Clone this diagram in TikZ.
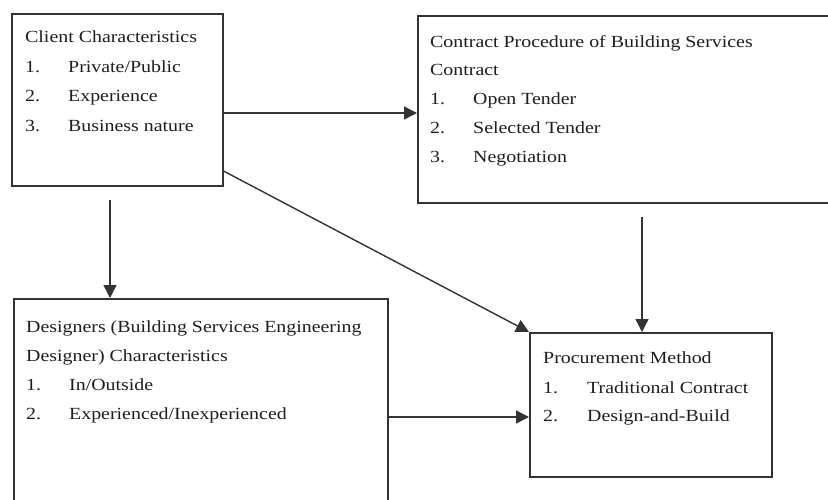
\documentclass[tikz,border=0pt]{standalone}
\usepackage{fontspec}
\setmainfont{Liberation Serif}[FakeStretch=1.17]
\usetikzlibrary{arrows.meta}
\definecolor{ink}{HTML}{1E1E1E}
\definecolor{edge}{HTML}{333333}
\tikzset{
  box/.style={draw=edge, line width=1.5pt, anchor=north west, inner sep=0pt},
  txt/.style={anchor=base west, inner sep=0pt, text=ink, font=\fontsize{17}{20}\selectfont},
  conn/.style={draw=edge, line width=1.4pt, -{Triangle[length=13pt,width=13pt]}},
}
\begin{document}
\begin{tikzpicture}[x=1pt,y=-1pt]
\clip (0,0) rectangle (828,499);
\fill[white] (0,0) rectangle (828,499);
% boxes
\node[box, minimum width=211pt, minimum height=172pt] (client) at (11,13) {};
\node[box, minimum width=430pt, minimum height=187pt] (contract) at (417,15) {};
\node[box, minimum width=374pt, minimum height=230pt] (designers) at (13,298) {};
\node[box, minimum width=242pt, minimum height=144pt] (proc) at (529,332) {};
% client text
\node[txt] (c0) at (25,42) {Client Characteristics};
\node[txt] (c1n) at (25,72) {1.};
\node[txt] (c1) at (68,72) {Private/Public};
\node[txt] (c2n) at (25,101) {2.};
\node[txt] (c2) at (68,101) {Experience};
\node[txt] (c3n) at (25,131) {3.};
\node[txt] (c3) at (68,131) {Business nature};
% contract text
\node[txt] (k0) at (430,47) {Contract Procedure of Building Services};
\node[txt] (k0b) at (430,75) {Contract};
\node[txt] (k1n) at (430,104) {1.};
\node[txt] (k1) at (473,104) {Open Tender};
\node[txt] (k2n) at (430,133) {2.};
\node[txt] (k2) at (473,133) {Selected Tender};
\node[txt] (k3n) at (430,162) {3.};
\node[txt] (k3) at (473,162) {Negotiation};
% designers text
\node[txt] (d0) at (26,332) {Designers (Building Services Engineering};
\node[txt] (d0b) at (26,361) {Designer) Characteristics};
\node[txt] (d1n) at (26,390) {1.};
\node[txt] (d1) at (69,390) {In/Outside};
\node[txt] (d2n) at (26,419) {2.};
\node[txt] (d2) at (69,419) {Experienced/Inexperienced};
% procurement text
\node[txt] (p0) at (543,363) {Procurement Method};
\node[txt] (p1n) at (543,393) {1.};
\node[txt] (p1) at (587,393) {Traditional Contract};
\node[txt] (p2n) at (543,421) {2.};
\node[txt] (p2) at (587,421) {Design-and-Build};
% connectors
\draw[conn] (client.east |- 0,113) -- (contract.west |- 0,113);
\draw[conn, shorten <=13pt] (client.south -| 110,0) -- (designers.north -| 110,0);
\draw[conn] (client.south east |- 0,171) -- (proc.north west);
\draw[conn] (designers.east |- 0,417) -- (proc.west |- 0,417);
\draw[conn, shorten <=13pt] (contract.south -| 642,0) -- (proc.north -| 642,0);
\end{tikzpicture}
\end{document}
